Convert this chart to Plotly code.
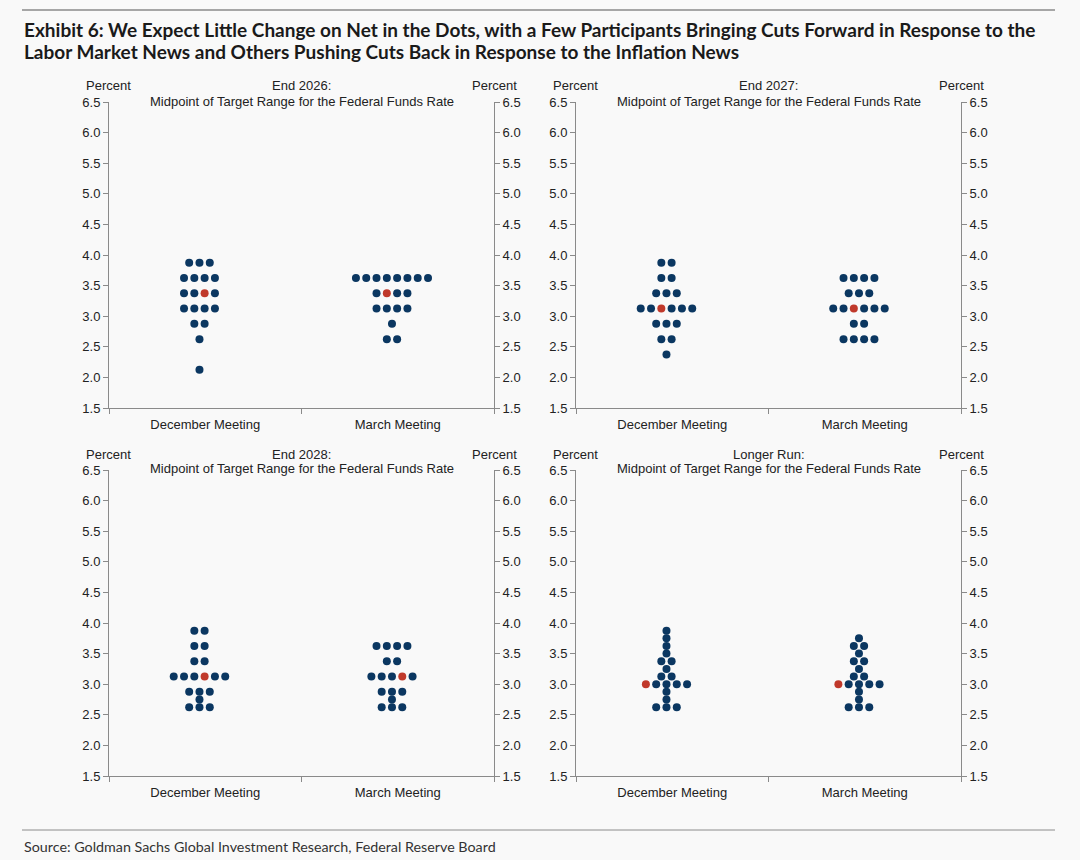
import plotly.graph_objects as go

# ---------------- data ----------------
categories = ["December Meeting", "March Meeting"]
panel_titles = ["End 2026:", "End 2027:", "End 2028:", "Longer Run:"]
subtitle = "Midpoint of Target Range for the Federal Funds Rate"
y_ticks = [1.5, 2.0, 2.5, 3.0, 3.5, 4.0, 4.5, 5.0, 5.5, 6.0, 6.5]

# End 2026
dec_2026_rates = [3.875, 3.625, 3.375, 3.125, 2.875, 2.625, 2.125]
dec_2026_counts = [3, 4, 4, 4, 2, 1, 1]
dec_2026_median = (3.375, 2)          # (rate, slot in row) highlighted in red
mar_2026_rates = [3.625, 3.375, 3.125, 2.875, 2.625]
mar_2026_counts = [8, 4, 4, 1, 2]
mar_2026_median = (3.375, 1)

# End 2027
dec_2027_rates = [3.875, 3.625, 3.375, 3.125, 2.875, 2.625, 2.375]
dec_2027_counts = [2, 2, 3, 6, 3, 2, 1]
dec_2027_median = (3.125, 2)
mar_2027_rates = [3.625, 3.375, 3.125, 2.875, 2.625]
mar_2027_counts = [4, 3, 6, 2, 4]
mar_2027_median = (3.125, 2)

# End 2028
dec_2028_rates = [3.875, 3.625, 3.375, 3.125, 2.875, 2.75, 2.625]
dec_2028_counts = [2, 2, 2, 6, 3, 1, 3]
dec_2028_median = (3.125, 3)
mar_2028_rates = [3.625, 3.375, 3.125, 2.875, 2.75, 2.625]
mar_2028_counts = [4, 2, 5, 3, 1, 3]
mar_2028_median = (3.125, 3)

# Longer run
dec_lr_rates = [3.875, 3.75, 3.625, 3.5, 3.375, 3.25, 3.125, 3.0, 2.875, 2.75, 2.625]
dec_lr_counts = [1, 1, 1, 1, 2, 1, 2, 5, 1, 1, 3]
dec_lr_median = (3.0, 0)
mar_lr_rates = [3.75, 3.625, 3.5, 3.375, 3.25, 3.125, 3.0, 2.875, 2.75, 2.625]
mar_lr_counts = [1, 2, 1, 2, 1, 2, 5, 1, 1, 3]
mar_lr_median = (3.0, 0)

panels = [
    [(dec_2026_rates, dec_2026_counts, dec_2026_median), (mar_2026_rates, mar_2026_counts, mar_2026_median)],
    [(dec_2027_rates, dec_2027_counts, dec_2027_median), (mar_2027_rates, mar_2027_counts, mar_2027_median)],
    [(dec_2028_rates, dec_2028_counts, dec_2028_median), (mar_2028_rates, mar_2028_counts, mar_2028_median)],
    [(dec_lr_rates, dec_lr_counts, dec_lr_median), (mar_lr_rates, mar_lr_counts, mar_lr_median)],
]

# ---------------- style / layout ----------------
W, H = 1080, 860
NAVY = "#0B3761"
RED = "#C0392B"
AXIS = "#8a8a8a"
TXT = "#222222"
BG = "#F9F9F9"
FONT = "Liberation Sans, Arial, sans-serif"
FS = 13

def px(x):
    return x / W

def py(y):
    return 1 - y / H

# pixel boxes of the panels: (left, right, top, bottom)
boxes = [(109, 494, 102, 408), (576, 961, 102, 408),
         (109, 494, 470, 776), (576, 961, 470, 776)]

cat_pos = [1, 3]
col_shift = -0.06
spacing = 0.107

fig = go.Figure()
layout = dict(
    width=W, height=H,
    margin=dict(l=0, r=0, t=0, b=0),
    paper_bgcolor=BG, plot_bgcolor=BG,
    showlegend=False,
    font=dict(family=FONT, size=FS, color=TXT),
)
annotations = []

for k, (meetings, box) in enumerate(zip(panels, boxes)):
    l, r, t, b = box
    xa = f"x{k + 1}" if k else "x"
    yl_i, yr_i = 2 * k + 1, 2 * k + 2
    yl = f"y{yl_i}" if yl_i > 1 else "y"
    yr = f"y{yr_i}"
    xkey = f"xaxis{k + 1}" if k else "xaxis"
    ylkey = f"yaxis{yl_i}" if yl_i > 1 else "yaxis"
    yrkey = f"yaxis{yr_i}"

    for ci, (rates, counts, med) in enumerate(meetings):
        center = cat_pos[ci] + col_shift
        bx, by, rx, ry = [], [], [], []
        for rate, n in zip(rates, counts):
            for i in range(n):
                xv = center + (i - (n - 1) / 2) * spacing
                if rate == med[0] and i == med[1]:
                    rx.append(xv); ry.append(rate)
                else:
                    bx.append(xv); by.append(rate)
        fig.add_trace(go.Scatter(x=bx, y=by, mode="markers", xaxis=xa, yaxis=yl,
                                 marker=dict(size=8, color=NAVY, line=dict(width=0)),
                                 hoverinfo="skip"))
        fig.add_trace(go.Scatter(x=rx, y=ry, mode="markers", xaxis=xa, yaxis=yl,
                                 marker=dict(size=8, color=RED, line=dict(width=0)),
                                 hoverinfo="skip"))
    fig.add_trace(go.Scatter(x=[None], y=[None], xaxis=xa, yaxis=yr, mode="markers",
                             hoverinfo="skip"))

    layout[xkey] = dict(
        domain=[px(l), px(r)], anchor=yl, range=[0, 4],
        showline=True, linecolor=AXIS, linewidth=1,
        tickvals=cat_pos, ticktext=categories, ticks="", ticklabelstandoff=4,
        minor=dict(tickvals=[0, 2, 4], ticks="outside", ticklen=5, tickcolor=AXIS, tickwidth=1),
        showgrid=False, zeroline=False, fixedrange=True, automargin=False,
        tickfont=dict(family=FONT, size=FS, color=TXT),
    )
    common_y = dict(
        domain=[py(b), py(t)], anchor=xa, range=[1.5, 6.5],
        tickvals=y_ticks, tickformat=".1f", ticks="outside", ticklen=5,
        tickcolor=AXIS, showline=True, linecolor=AXIS, linewidth=1,
        showgrid=False, zeroline=False, fixedrange=True, automargin=False,
        tickfont=dict(family=FONT, size=FS, color=TXT),
    )
    layout[ylkey] = dict(common_y, side="left")
    layout[yrkey] = dict(common_y, side="right", overlaying=yl)

    top_text_y = t - 16
    annotations += [
        dict(text="Percent", x=px(l - 1), y=py(top_text_y), xref="paper", yref="paper",
             xanchor="center", yanchor="middle", showarrow=False, font=dict(size=FS)),
        dict(text="Percent", x=px(r), y=py(top_text_y), xref="paper", yref="paper",
             xanchor="center", yanchor="middle", showarrow=False, font=dict(size=FS)),
        dict(text=panel_titles[k], x=px((l + r) / 2), y=py(top_text_y), xref="paper", yref="paper",
             xanchor="center", yanchor="middle", showarrow=False, font=dict(size=FS)),
        dict(text=subtitle, x=px((l + r) / 2), y=py(t - 1), xref="paper", yref="paper",
             xanchor="center", yanchor="middle", showarrow=False, font=dict(size=FS)),
    ]

TITLE_FONT = "Lato, sans-serif"
annotations += [
    dict(text="<b>Exhibit 6: We Expect Little Change on Net in the Dots, with a Few Participants Bringing Cuts Forward in Response to the</b>",
         x=px(22), y=py(29), xref="paper", yref="paper", xanchor="left", yanchor="middle",
         showarrow=False, font=dict(family=TITLE_FONT, size=19, color="#1a1a1a")),
    dict(text="<b>Labor Market News and Others Pushing Cuts Back in Response to the Inflation News</b>",
         x=px(22), y=py(51), xref="paper", yref="paper", xanchor="left", yanchor="middle",
         showarrow=False, font=dict(family=TITLE_FONT, size=19, color="#1a1a1a")),
    dict(text="Source: Goldman Sachs Global Investment Research, Federal Reserve Board",
         x=px(22), y=py(846), xref="paper", yref="paper", xanchor="left", yanchor="middle",
         showarrow=False, font=dict(family="Lato, sans-serif", size=14.3, color="#333333")),
]

layout["annotations"] = annotations
layout["shapes"] = [
    dict(type="line", xref="paper", yref="paper", x0=px(22), x1=px(1055), y0=py(10), y1=py(10),
         line=dict(color="#a6a6a6", width=2)),
    dict(type="line", xref="paper", yref="paper", x0=px(22), x1=px(1055), y0=py(830), y1=py(830),
         line=dict(color="#8c8c8c", width=1)),
]

fig.update_layout(**layout)
post = ("document.body.style.margin='0';document.body.style.padding='0';"
        "document.body.style.overflow='hidden';document.body.style.background='%s';" % BG)
fig.write_html("out.html", post_script=post, config={"displayModeBar": False})
